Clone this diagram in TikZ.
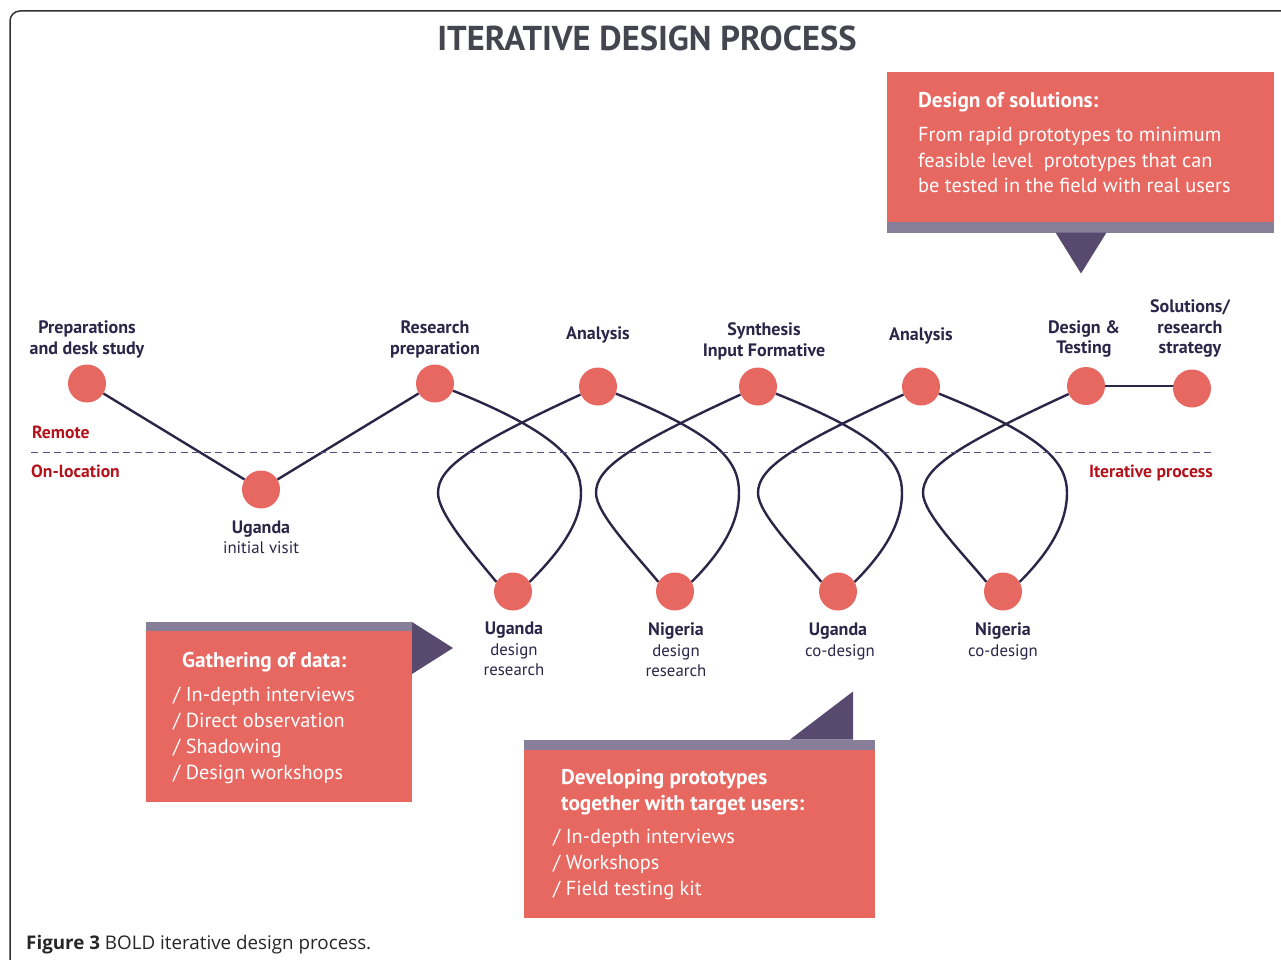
\documentclass[tikz,border=0pt]{standalone}
\usepackage{fontspec}
\setmainfont{PT Sans}
\newfontfamily\capfont{Open Sans}
\usetikzlibrary{backgrounds}
\definecolor{salmon}{HTML}{E76861}
\definecolor{stripc}{HTML}{877E99}
\definecolor{tric}{HTML}{574A6E}
\definecolor{ink}{HTML}{2B2548}
\definecolor{redlab}{HTML}{B5121B}
\definecolor{titlec}{HTML}{45454F}
\definecolor{framec}{HTML}{333333}
\definecolor{dashc}{HTML}{5B4C7E}
\begin{document}
\begin{tikzpicture}[x=1pt,y=-1pt,
  dot/.style={circle,fill=salmon,minimum size=38pt,inner sep=0pt},
  conn/.style={draw=ink,line width=2.4pt},
  lab/.style={anchor=base,inner sep=0pt,text=ink,font=\fontsize{18}{21}\selectfont\bfseries},
  sublab/.style={anchor=base,inner sep=0pt,text=ink,font=\fontsize{16.8}{20}\selectfont},
  side/.style={inner sep=0pt,text=redlab,font=\fontsize{17.6}{21}\selectfont\bfseries},
  boxhead/.style={anchor=base west,inner sep=0pt,text=white,font=\fontsize{21.3}{25}\selectfont\bfseries},
  boxitem/.style={anchor=base west,inner sep=0pt,text=white,font=\fontsize{20.3}{24}\selectfont},
  panel/.style={fill=salmon,inner sep=0pt,anchor=north west},
  stripe/.style={fill=stripc},
  pointer/.style={fill=tric},
]
\useasboundingbox (0,0) rectangle (1281,960);
% frame
\draw[framec,line width=1.5pt,rounded corners=10pt] (10,960) -- (10,11) -- (1281,11);
% title
\node[anchor=base,inner sep=0pt,text=titlec,font=\fontsize{34.5}{40}\selectfont\bfseries] (title) at (647,51) {ITERATIVE DESIGN PROCESS};

% dashed divider
\coordinate (dl) at (31,452.5);
\coordinate (dr) at (1212,452.5);
\draw[dashc,line width=1.2pt,dash pattern=on 7pt off 4.5pt] (dl) -- (dr);
\node[side,anchor=base west] (remote) at (32,438) {Remote};
\node[side,anchor=base west] (onloc) at (31,477) {On-location};
\node[side,anchor=base east] (iter) at (1213,477) {Iterative process};

% dots
\node[dot] (p1) at (87,383.5) {};
\node[dot] (u1) at (261,489.5) {};
\node[dot] (p2) at (435,383.5) {};
\node[dot] (a1) at (598,386.5) {};
\node[dot] (s1) at (758,386.5) {};
\node[dot] (a2) at (921,386.5) {};
\node[dot] (d1) at (1086,386) {};
\node[dot] (so) at (1192,388.5) {};
\node[dot] (b1) at (513,591.5) {};
\node[dot] (b2) at (675,591.5) {};
\node[dot] (b3) at (838,591.5) {};
\node[dot] (b4) at (1003,591.5) {};

% loop extreme points
\coordinate (l1) at (438,493);
\coordinate (r1) at (581,493);
\coordinate (l2) at (596,493);
\coordinate (r2) at (739,493);
\coordinate (l3) at (758,493);
\coordinate (r3) at (902,493);
\coordinate (l4) at (923,493);
\coordinate (r4) at (1067,493);

\begin{scope}[on background layer]
  \draw[conn] (p1) -- (u1) -- (p2);
  \draw[conn] (d1) -- (d1 -| so);
  \foreach \top/\lft/\bot in {a1/l1/b1,s1/l2/b2,a2/l3/b3,d1/l4/b4}{
    \draw[conn] (\top) .. controls +(-130,60) and +(0,-25) .. (\lft)
      .. controls +(0,20) and +(-25,-30) .. (\bot.150);
  }
  \foreach \top/\rgt/\bot in {p2/r1/b1,a1/r2/b2,s1/r3/b3,a2/r4/b4}{
    \draw[conn] (\top) .. controls +(125,50) and +(0,-30) .. (\rgt)
      .. controls +(0,30) and +(30,-30) .. (\bot.30);
  }
\end{scope}

% labels
\node[lab] (t1a) at (87,333) {Preparations};
\node[lab] (t1b) at (87,354) {and desk study};
\node[lab] (t2a) at (261,533) {Uganda};
\node[sublab] (t2b) at (261,553) {initial visit};
\node[lab] (t3a) at (435,333) {Research};
\node[lab] (t3b) at (435,354) {preparation};
\node[lab] (t4a) at (598,339) {Analysis};
\node[lab] (t5a) at (764,335.5) {Synthesis};
\node[lab] (t5b) at (764,356) {Input Formative};
\node[lab] (t6a) at (921,340) {Analysis};
\node[lab] (t7a) at (1084,333) {Design \&};
\node[lab] (t7b) at (1084,353.5) {Testing};
\node[lab] (t8a) at (1190,312) {Solutions/};
\node[lab] (t8b) at (1190,333) {research};
\node[lab] (t8c) at (1190,353.5) {strategy};
\node[lab] (t9a) at (514,634) {Uganda};
\node[sublab] (t9b) at (514,655) {design};
\node[sublab] (t9c) at (514,675.5) {research};
\node[lab] (t10a) at (676,635) {Nigeria};
\node[sublab] (t10b) at (676,656) {design};
\node[sublab] (t10c) at (676,676.5) {research};
\node[lab] (t11a) at (838,635.5) {Uganda};
\node[sublab] (t11b) at (840,656.5) {co-design};
\node[lab] (t12a) at (1003,635.5) {Nigeria};
\node[sublab] (t12b) at (1003,656.5) {co-design};

% Design of solutions box
\node[panel,minimum width=387pt,minimum height=150pt] (dsol) at (887,72) {};
\fill[stripe] (dsol.south west) rectangle ++(387,11);
\fill[pointer] (1055.5,232.5) -- (1106.5,232.5) -- (1081,273.5) -- cycle;
\node[boxhead] (dsh) at (918,108) {Design of solutions:};
\node[boxitem] (ds1) at (918,142) {From rapid prototypes to minimum};
\node[boxitem] (ds2) at (918,167.5) {feasible level\ \ prototypes that can};
\node[boxitem] (ds3) at (918,193) {be tested in the field with real users};

% Gathering of data box
\fill[stripe] (146,622) rectangle (412,631);
\node[panel,minimum width=266pt,minimum height=171pt] (gath) at (146,631) {};
\fill[pointer] (412,622) -- (453,648) -- (412,674) -- cycle;
\node[boxhead] (gh) at (182,667) {Gathering of data:};
\node[boxitem] (g1) at (173,701) {/ In-depth interviews};
\node[boxitem] (g2) at (173,727) {/ Direct observation};
\node[boxitem] (g3) at (173,753) {/ Shadowing};
\node[boxitem] (g4) at (173,779) {/ Design workshops};

% Developing prototypes box
\fill[pointer] (790,739.5) -- (853,739.5) -- (853,691.5) -- cycle;
\fill[stripe] (524,739.5) rectangle (875,749.5);
\node[panel,minimum width=351pt,minimum height=168pt] (dev) at (524,749.5) {};
\node[boxhead] (dh1) at (561,784) {Developing prototypes};
\node[boxhead] (dh2) at (561,810) {together with target users:};
\node[boxitem] (d1t) at (553,843.5) {/ In-depth interviews};
\node[boxitem] (d2t) at (553,869.5) {/ Workshops};
\node[boxitem] (d3t) at (553,895.5) {/ Field testing kit};

% caption
\node[anchor=base west,inner sep=0pt,font=\capfont\fontsize{18.8}{22}\selectfont,text=black!85] (cap) at (26,949) {{\bfseries Figure 3} BOLD iterative design process.};
\end{tikzpicture}
\end{document}
